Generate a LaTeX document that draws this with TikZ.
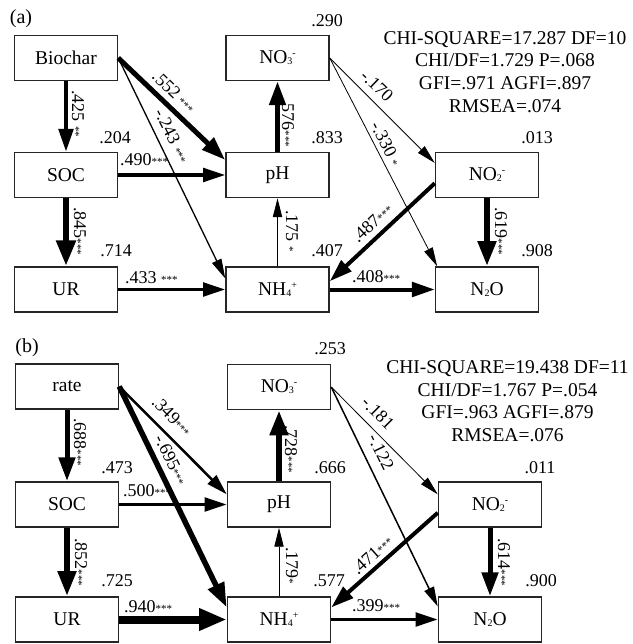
\documentclass[tikz,border=0pt]{standalone}
\usepackage{fontspec}
\setmainfont{Liberation Serif}
\usetikzlibrary{arrows.meta}
\newcommand{\lsub}[1]{\raisebox{-1pt}{\fontsize{10}{10}\selectfont #1}}
\newcommand{\lsup}[1]{\raisebox{7pt}{\fontsize{10}{10}\selectfont #1}}
\newcommand{\stars}[1]{{\fontsize{11}{11}\selectfont #1}}
\tikzset{
  box/.style={draw=black!85, line width=1.5pt, minimum width=103pt, minimum height=45pt, inner sep=0pt, font=\fontsize{19.5}{20}\selectfont},
  lab/.style={inner sep=0pt, font=\fontsize{18}{18}\selectfont},
  vlab/.style={lab, anchor=west, rotate=-90},
  hlab/.style={lab, anchor=base west},
  rsq/.style={inner sep=0pt, font=\fontsize{18}{18}\selectfont},
  stat/.style={inner sep=0pt, anchor=base, font=\fontsize{19.5}{20}\selectfont},
  panel/.style={inner sep=0pt, font=\fontsize{20}{20}\selectfont},
  arr/.style={draw=black, -{Triangle[length=18pt 1.2, width=8pt 1.6]}},
}
\begin{document}
\begin{tikzpicture}[x=1pt, y=-1pt]
\useasboundingbox (0,0) rectangle (632,644);

% ---------------- panel (a) ----------------
\node[panel] (pa) at (21,19) {(a)};
\node[box] (a-bio) at (66,58) {Biochar};
\node[box] (a-no3) at (277.5,58) {NO\lsub{3}\lsup{-}};
\node[box] (a-soc) at (66,175) {SOC};
\node[box] (a-ph) at (277.5,175) {pH};
\node[box] (a-no2) at (487,175) {NO\lsub{2}\lsup{-}};
\node[box] (a-ur) at (66,289.5) {UR};
\node[box] (a-nh4) at (277.5,289.5) {NH\lsub{4}\lsup{+}};
\node[box] (a-n2o) at (487,289.5) {N\lsub{2}O};

\draw[arr, line width=4pt] (a-bio) -- (a-soc);
\draw[arr, line width=5pt] (a-bio.east) -- (a-ph.164);
\draw[arr, line width=1.3pt] (a-bio.east) -- (a-nh4.168);
\draw[arr, line width=3.5pt] (a-soc) -- (a-ph);
\draw[arr, line width=6.5pt] (a-soc) -- (a-ur);
\draw[arr, line width=3.5pt] (a-ur) -- (a-nh4);
\draw[arr, line width=5pt] (a-ph) -- (a-no3);
\draw[arr, line width=0.8pt] (a-nh4) -- (a-ph);
\draw[arr, line width=0.8pt] (a-no3.east) -- (a-no2.167);
\draw[arr, line width=0.8pt] (a-no3.east) -- (a-n2o.155);
\draw[arr, line width=4pt] (a-no2.189) -- (a-nh4.9);
\draw[arr, line width=6pt] (a-no2) -- (a-n2o);
\draw[arr, line width=4pt] (a-nh4) -- (a-n2o);

\node[vlab] (la1) at (78,90) {.425 \stars{**}};
\node[vlab] (la2) at (80,207) {.845\stars{***}};
\node[vlab] (la3) at (288,99) {.576\stars{***}};
\node[vlab] (la4) at (292,210) {.175 \stars{*}};
\node[vlab] (la5) at (501,207) {.619\stars{***}};
\node[hlab] (la6) at (120,166) {.490\stars{***}};
\node[hlab] (la7) at (125,283) {.433 \stars{***}};
\node[hlab] (la8) at (352,282) {.408\stars{***}};
\node[lab, rotate=-44] (la9) at (174,92) {.552 \stars{***}};
\node[lab, rotate=-64] (la10) at (172,136) {-.243 \stars{***}};
\node[lab, rotate=-44] (la11) at (377,86) {-.170};
\node[lab, rotate=-63] (la12) at (386,144) {-.330 \stars{*}};
\node[lab, rotate=43] (la13) at (372,223) {.487\stars{***}};

\node[rsq] (ra1) at (327,21) {.290};
\node[rsq] (ra2) at (115,138) {.204};
\node[rsq] (ra3) at (327,138) {.833};
\node[rsq] (ra4) at (537,138) {.013};
\node[rsq] (ra5) at (116,251) {.714};
\node[rsq] (ra6) at (327,251) {.407};
\node[rsq] (ra7) at (537,251) {.908};

\node[stat] (sa1) at (505,45) {CHI-SQUARE=17.287 DF=10};
\node[stat] (sa2) at (505,67) {CHI/DF=1.729 P=.068};
\node[stat] (sa3) at (505,90) {GFI=.971 AGFI=.897};
\node[stat] (sa4) at (505,113) {RMSEA=.074};

% ---------------- panel (b) ----------------
\node[panel] (pb) at (27,348) {(b)};
\node[box] (b-rate) at (67,386.5) {rate};
\node[box] (b-no3) at (279,387) {NO\lsub{3}\lsup{-}};
\node[box] (b-soc) at (67,504.5) {SOC};
\node[box] (b-ph) at (279,504.5) {pH};
\node[box] (b-no2) at (490,504.5) {NO\lsub{2}\lsup{-}};
\node[box] (b-ur) at (67,619.5) {UR};
\node[box] (b-nh4) at (279,619.5) {NH\lsub{4}\lsup{+}};
\node[box] (b-n2o) at (490,619.5) {N\lsub{2}O};

\draw[arr, line width=5pt] (b-rate) -- (b-soc);
\draw[arr, line width=2.5pt] (b-rate.east) -- (b-ph.169);
\draw[arr, line width=5.5pt] (b-rate.east) -- (b-nh4.167);
\draw[arr, line width=3.5pt] (b-soc) -- (b-ph);
\draw[arr, line width=6pt] (b-soc) -- (b-ur);
\draw[arr, line width=8pt] (b-ur) -- (b-nh4);
\draw[arr, line width=6pt] (b-ph) -- (b-no3);
\draw[arr, line width=0.8pt] (b-nh4) -- (b-ph);
\draw[arr, line width=0.8pt] (b-no3.east) -- (b-no2.169);
\draw[arr, line width=1.5pt] (b-no3.east) -- (b-n2o.166);
\draw[arr, line width=4pt] (b-no2.189) -- (b-nh4.13);
\draw[arr, line width=5pt] (b-no2) -- (b-n2o);
\draw[arr, line width=3.5pt] (b-nh4) -- (b-n2o);

\node[vlab] (lb1) at (80,418) {.688\stars{***}};
\node[vlab] (lb2) at (81,538) {.852\stars{***}};
\node[vlab] (lb3) at (291,425) {.728\stars{***}};
\node[vlab] (lb4) at (292,547) {.179\stars{*}};
\node[vlab] (lb5) at (504,538) {.614\stars{***}};
\node[hlab] (lb6) at (123,496) {.500\stars{***}};
\node[hlab] (lb7) at (124,612) {.940\stars{***}};
\node[hlab] (lb8) at (352,611) {.399\stars{***}};
\node[lab, rotate=-45] (lb9) at (172,416) {.349\stars{***}};
\node[lab, rotate=-64] (lb10) at (171,460) {-.695\stars{***}};
\node[lab, rotate=-45] (lb11) at (378,413) {-.181};
\node[lab, rotate=-64] (lb12) at (381,452) {-.122};
\node[lab, rotate=42] (lb13) at (372,555) {.471\stars{***}};

\node[rsq] (rb1) at (330,349) {.253};
\node[rsq] (rb2) at (117,467.5) {.473};
\node[rsq] (rb3) at (330,467.5) {.666};
\node[rsq] (rb4) at (540,467.5) {.011};
\node[rsq] (rb5) at (117,581) {.725};
\node[rsq] (rb6) at (329,581) {.577};
\node[rsq] (rb7) at (541,581) {.900};

\node[stat] (sb1) at (507.5,373) {CHI-SQUARE=19.438 DF=11};
\node[stat] (sb2) at (507.5,396) {CHI/DF=1.767 P=.054};
\node[stat] (sb3) at (507.5,418) {GFI=.963 AGFI=.879};
\node[stat] (sb4) at (507.5,441) {RMSEA=.076};
\end{tikzpicture}
\end{document}
